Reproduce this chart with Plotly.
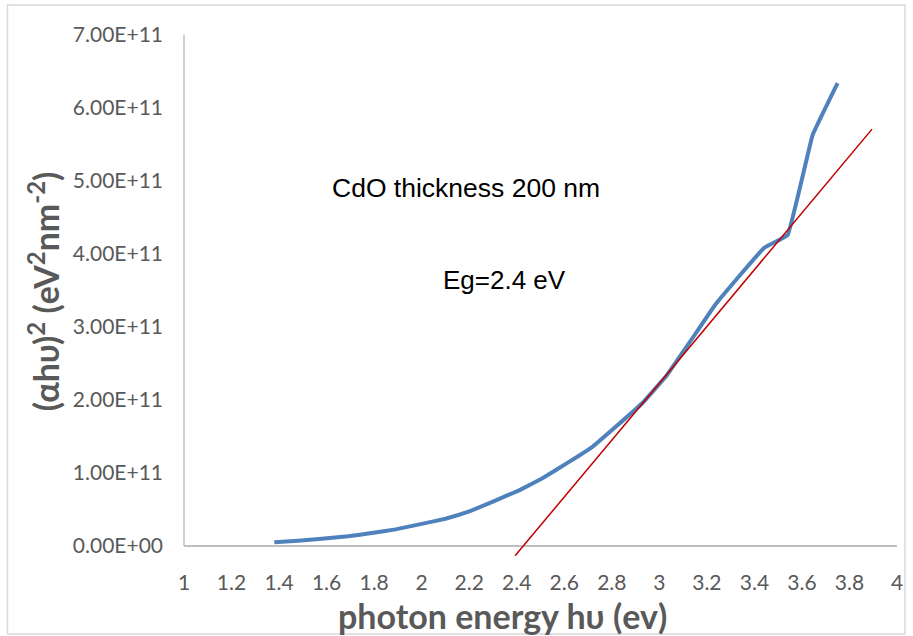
import plotly.graph_objects as go

# photon energy (eV) and (alpha h nu)^2 values
energy = [1.38, 1.48, 1.58, 1.69, 1.79, 1.89, 2.00, 2.10, 2.20, 2.31, 2.41, 2.51,
          2.62, 2.72, 2.82, 2.93, 3.03, 3.13, 3.23, 3.34, 3.44, 3.54, 3.645, 3.75]
alpha_hv2 = [0.05e11, 0.07e11, 0.095e11, 0.13e11, 0.175e11, 0.225e11, 0.30e11, 0.37e11,
             0.47e11, 0.62e11, 0.76e11, 0.93e11, 1.15e11, 1.36e11, 1.64e11, 1.96e11,
             2.33e11, 2.80e11, 3.28e11, 3.71e11, 4.08e11, 4.26e11, 5.63e11, 6.34e11]

# tangent (extrapolation) line
tangent_x = [2.393, 3.895]
tangent_y = [-0.137e11, 5.71e11]

x_ticks = [1, 1.2, 1.4, 1.6, 1.8, 2, 2.2, 2.4, 2.6, 2.8, 3, 3.2, 3.4, 3.6, 3.8, 4]
y_ticks = [0, 1e11, 2e11, 3e11, 4e11, 5e11, 6e11, 7e11]
y_ticktext = [f"{v:.2E}" for v in y_ticks]
x_ticktext = [f"{v:g}" for v in x_ticks]

W, H = 913, 636
L, R, T, B = 184, 10, 35, 80
pw, ph = W - L - R, H - T - B

def px(xpix):
    return (xpix - L) / pw

def py(ypix):
    return (H - B - ypix) / ph

fig = go.Figure()
fig.add_trace(go.Scatter(x=energy, y=alpha_hv2, mode="lines",
                         line=dict(color="#4F81BD", width=4, shape="spline", smoothing=0.2),
                         showlegend=False))
fig.add_trace(go.Scatter(x=tangent_x, y=tangent_y, mode="lines",
                         line=dict(color="#C00000", width=1.5), showlegend=False))

gray = "#595959"
fig.update_layout(
    width=W, height=H,
    margin=dict(l=L, r=R, t=T, b=B),
    paper_bgcolor="white", plot_bgcolor="white",
    font=dict(family="Lato", color=gray),
    xaxis=dict(range=[1, 4], tickvals=x_ticks, ticktext=x_ticktext,
               showgrid=False, zeroline=False, showline=False, ticks="",
               tickfont=dict(family="Lato", size=21, color=gray),
               ticklabelstandoff=12),
    yaxis=dict(range=[-0.14e11, 7e11], tickvals=y_ticks, ticktext=y_ticktext,
               showgrid=False, zeroline=True, zerolinecolor="#BFBFBF", zerolinewidth=1.5,
               showline=False, ticks="",
               tickfont=dict(family="Lato", size=21, color=gray),
               ticklabelstandoff=20),
)

# y axis line from 0 to top
fig.add_shape(type="line", xref="paper", yref="y", x0=0, x1=0, y0=0, y1=7e11,
              line=dict(color="#BFBFBF", width=1.5))
# chart border
fig.add_shape(type="rect", xref="paper", yref="paper",
              x0=px(6), x1=px(911), y0=py(5), y1=py(634),
              line=dict(color="#D9D9D9", width=1.5), layer="below")

fig.add_annotation(text="photon energy h\u03c5 (ev)", xref="paper", yref="paper",
                   x=px(505), y=py(615), xanchor="center", yanchor="middle",
                   showarrow=False, font=dict(family="Lato", size=34, color=gray, weight="bold"))
fig.add_annotation(text="(\u03b1h\u03c5)<sup>2</sup> (eV<sup>2</sup>nm<sup>-2</sup>)",
                   xref="paper", yref="paper", textangle=-90,
                   x=px(43), y=py(291), xanchor="center", yanchor="middle",
                   showarrow=False, font=dict(family="Lato", size=34, color=gray, weight="bold"))
fig.add_annotation(text="CdO thickness 200 nm", xref="paper", yref="paper",
                   x=px(331), y=py(188), xanchor="left", yanchor="middle",
                   showarrow=False, font=dict(family="Liberation Sans", size=26.5, color="black"))
fig.add_annotation(text="Eg=2.4 eV", xref="paper", yref="paper",
                   x=px(443), y=py(280), xanchor="left", yanchor="middle",
                   showarrow=False, font=dict(family="Liberation Sans", size=26, color="black"))

fig.write_html("out.html")
